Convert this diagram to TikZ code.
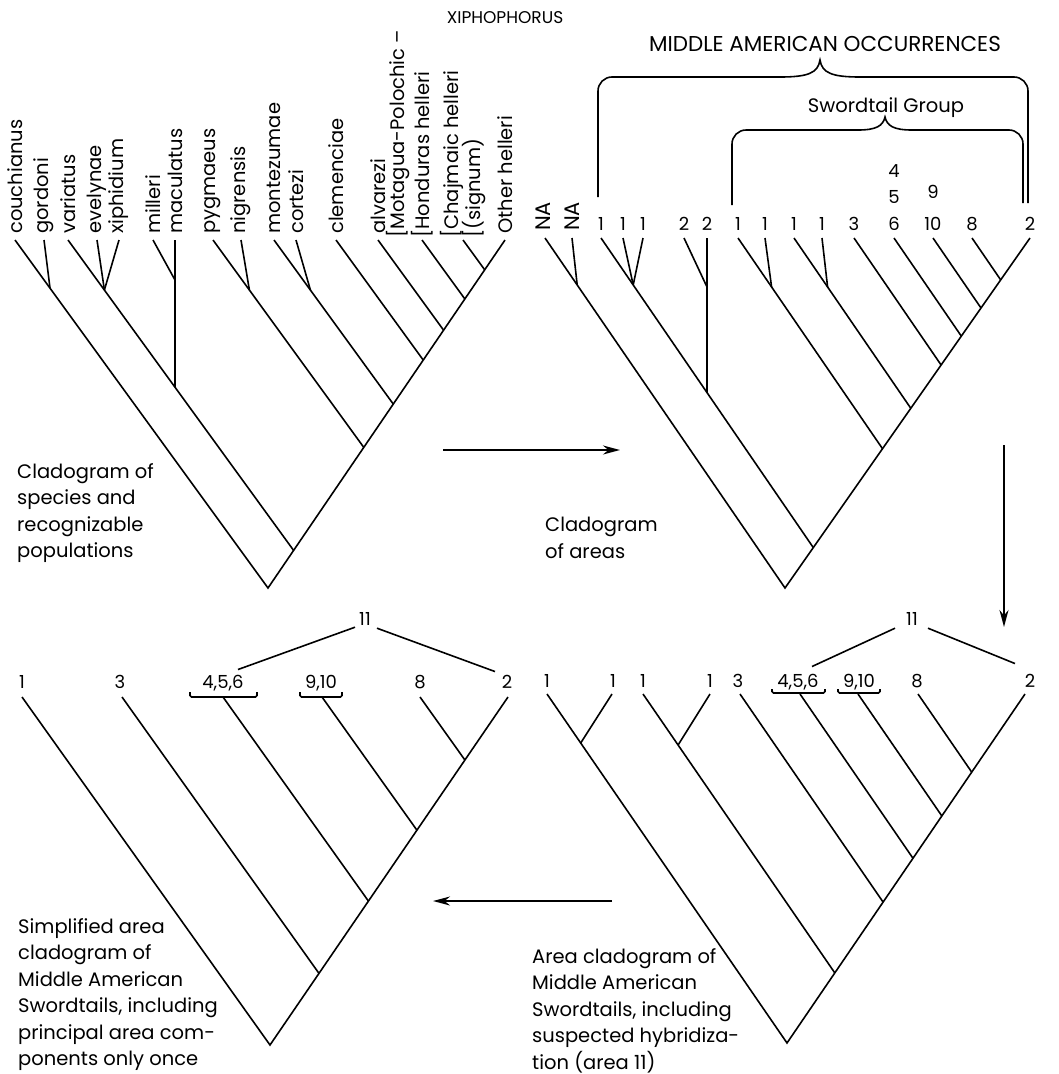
\documentclass[tikz,border=0pt]{standalone}
\usepackage{fontspec}
\setmainfont{Poppins}
\usetikzlibrary{arrows.meta}

\begin{document}
\begin{tikzpicture}[x=1pt, y=-1pt,
    branch/.style={line width=1.6pt},
    taxon/.style={rotate=90, anchor=west, inner sep=0pt, font=\fontsize{19.5}{22}\selectfont},
    area/.style={anchor=base, inner sep=0pt, font=\fontsize{18}{20}\selectfont},
    note/.style={anchor=north west, inner sep=0pt, align=left, font=\fontsize{19.5}{26.5}\selectfont},
    flow/.style={line width=1.8pt, -{Stealth[length=17pt, width=9pt]}},
    brace/.style={line width=1.6pt, rounded corners=14pt},
    underbrace/.style={line width=1.6pt, rounded corners=1.5pt}]
\useasboundingbox (0,0) rectangle (1058,1074);

% Title
\node[area, font=\fontsize{17}{20}\selectfont] (title) at (505,23) {XIPHOPHORUS};

% Cladogram of species (top left)
\foreach \x/\n/\t in {15/cou/couchianus, 44/gor/gordoni, 68/var/variatus, 97/eve/evelynae,
    119/xip/xiphidium, 153/mil/milleri, 175/mac/maculatus, 213/pyg/pygmaeus, 241/nig/nigrensis,
    274/mon/montezumae, 296/cor/cortezi, 336/cle/clemenciae, 378/alv/alvarezi, 505/oth/Other helleri} {
  \coordinate (\n) at (\x,240);
  \node[taxon] (l\n) at (\x,234) {\t};
}
\coordinate (hon) at (422,240);
\coordinate (cha) at (463,240);
\node[taxon] (lmot) at (398,238) {[Motagua-Polochic –};
\node[taxon] (lhon) at (422,238) {[Honduras helleri};
\node[taxon] (lcha) at (452,238) {[Chajmaic helleri};
\node[taxon] (lsig) at (474,238) {[(signum)};

\coordinate (rootA) at (268,588);
\coordinate (aVar) at (293.6,550.4);
\coordinate (aPyg) at (363.8,447.4);
\coordinate (aMon) at (393.3,404.1);
\coordinate (aCle) at (423.2,360);
\coordinate (aAlv) at (443.6,330.2);
\coordinate (aHon) at (464.8,298.9);
\coordinate (aCha) at (484.7,269.8);
\coordinate (aGor) at (50,288);
\coordinate (aEve) at (104.4,290);
\coordinate (aMil) at (175,280);
\coordinate (aMac) at (175,387.2);
\coordinate (aNig) at (249.4,290);
\coordinate (aCor) at (310.4,290);

\draw[branch] (cou) -- (rootA) -- (oth);
\foreach \a/\b in {var/aVar, pyg/aPyg, mon/aMon, cle/aCle, alv/aAlv, hon/aHon, cha/aCha,
    gor/aGor, eve/aEve, xip/aEve, mil/aMil, mac/aMac, nig/aNig, cor/aCor}
  \draw[branch] (\a) -- (\b);

% Cladogram of areas (top right)
\foreach \x/\n/\t in {601/b1/1, 623/b2/1, 643/b3/1, 684/b4/2, 707/b5/2, 738/b6/1, 765/b7/1,
    794/b8/1, 822/b9/1, 854/b10/3, 894/b11/6, 933/b12/10, 972/b13/8, 1030/b14/2} {
  \coordinate (\n) at (\x,238);
  \node[area] (l\n) at (\x,230) {\t};
}
\coordinate (bNA1) at (545,238);
\coordinate (bNA2) at (572,238);
\node[taxon, font=\fontsize{21}{22}\selectfont] (lbNA1) at (543,231) {NA};
\node[taxon, font=\fontsize{21}{22}\selectfont] (lbNA2) at (572,231) {NA};
\node[area] (lb4) at (894,177) {4};
\node[area] (lb5) at (894,203) {5};
\node[area] (lb9) at (933,198) {9};

\coordinate (rootB) at (785,588);
\coordinate (bA) at (813.3,547.6);
\coordinate (bD) at (882.5,448.7);
\coordinate (bF) at (910.8,408.3);
\coordinate (bThree) at (941.1,365);
\coordinate (bSix) at (961.3,336.1);
\coordinate (bTen) at (981,308);
\coordinate (bEight) at (1000.7,279.9);
\coordinate (bNA) at (577.2,285);
\coordinate (bB) at (633.2,285);
\coordinate (bTwo) at (707,287);
\coordinate (bTwoB) at (707,392.6);
\coordinate (bE) at (771.6,287);
\coordinate (bG) at (827.6,287);

\draw[branch] (bNA1) -- (rootB) -- (b14);
\foreach \a/\b in {b1/bA, b6/bD, b8/bF, b10/bThree, b11/bSix, b12/bTen, b13/bEight,
    bNA2/bNA, b2/bB, b3/bB, b4/bTwo, b5/bTwoB, b7/bE, b9/bG}
  \draw[branch] (\a) -- (\b);

% Braces over the areas
\node[area, font=\fontsize{21.5}{24}\selectfont] (mao) at (825,51) {MIDDLE AMERICAN OCCURRENCES};
\node[area, font=\fontsize{19.5}{22}\selectfont] (swg) at (886,112) {Swordtail Group};
\draw[brace] (598,197) -- (598,77) -- (780,77);
\draw[branch] (780,77) .. controls (808,77) and (818,73) .. (820,60)
  .. controls (822,73) and (832,77) .. (860,77);
\draw[brace] (860,77) -- (1028,77) -- (1028,203);
\draw[brace] (732,205) -- (732,130) -- (858,130);
\draw[branch] (858,130) .. controls (876,130) and (883,126) .. (885,117)
  .. controls (887,126) and (894,130) .. (912,130);
\draw[brace] (912,130) -- (1023,130) -- (1023,203);

% Area cladogram with hybrid area (bottom right)
\foreach \x/\n in {547/d1, 612/d2, 643/d3, 710/d4, 740/d5, 800/d6, 858/d7, 918/d8, 1025/d9}
  \coordinate (\n) at (\x,694);
\foreach \x/\n/\t in {547/d1/1, 613/d2/1, 643/d3/1, 710/d4/1, 738/d5/3, 798/d6/{4,5,6},
    859/d7/{9,10}, 917/d8/8, 1030/d9/2}
  \node[area] (l\n) at (\x,687) {\t};
\draw[underbrace] (772,689) -- (772,693) -- (825,693) -- (825,689);
\draw[underbrace] (838,689) -- (838,693) -- (880,693) -- (880,689);
\node[area] (IId) at (912,625) {11};
\draw[branch] ([xshift=-17pt,yshift=-3pt]IId.south) -- ([xshift=14pt,yshift=7pt]ld6.north);
\draw[branch] ([xshift=16pt,yshift=-3pt]IId.south) -- ([xshift=-15pt,yshift=10pt]ld9.north);

\coordinate (rootD) at (787,1043);
\coordinate (dC) at (834.8,972.9);
\coordinate (dThree) at (883.1,902.1);
\coordinate (dSix) at (913,858.3);
\coordinate (dTen) at (941.8,815.9);
\coordinate (dEight) at (971.7,772.1);
\coordinate (dB) at (580.7,743);
\coordinate (dD) at (678.1,745);

\draw[branch] (d1) -- (rootD) -- (d9);
\foreach \a/\b in {d3/dC, d5/dThree, d6/dSix, d7/dTen, d8/dEight, d2/dB, d4/dD}
  \draw[branch] (\a) -- (\b);

% Simplified area cladogram (bottom left)
\foreach \x/\n in {22/c1, 122/c2, 223/c3, 322/c4, 420/c5, 508/c6}
  \coordinate (\n) at (\x,697);
\foreach \x/\n/\t in {22/c1/1, 120/c2/3, 223/c3/{4,5,6}, 321/c4/{9,10}, 420/c5/8, 507/c6/2}
  \node[area] (l\n) at (\x,688) {\t};
\draw[underbrace] (190,692) -- (190,697) -- (257,697) -- (257,692);
\draw[underbrace] (300,692) -- (300,697) -- (342,697) -- (342,692);
\node[area] (IIc) at (365,625) {11};
\draw[branch] ([xshift=-10pt,yshift=-2pt]IIc.south) -- ([xshift=15pt,yshift=5pt]lc3.north);
\draw[branch] ([xshift=12pt,yshift=-3pt]IIc.south) -- ([xshift=-12pt,yshift=3pt]lc6.north);

\coordinate (rootC) at (270,1045);
\coordinate (cThree) at (319,973.4);
\coordinate (cSix) at (368.3,900.9);
\coordinate (cTen) at (416.8,830);
\coordinate (cEight) at (464.9,760);

\draw[branch] (c1) -- (rootC) -- (c6);
\foreach \a/\b in {c2/cThree, c3/cSix, c4/cTen, c5/cEight}
  \draw[branch] (\a) -- (\b);

% Captions
\node[note] (capA) at (17,463) {Cladogram of\\species and\\recognizable\\populations};
\node[note] (capB) at (545,517) {Cladogram\\of areas};
\node[note] (capC) at (18,918) {Simplified area\\cladogram of\\Middle American\\Swordtails, including\\principal area com-\\ponents only once};
\node[note] (capD) at (532,948) {Area cladogram of\\Middle American\\Swordtails, including\\suspected hybridiza-\\tion (area 11)};

% Flow between the panels
\coordinate (toB1) at (443,450);
\coordinate (toB2) at (620,450);
\coordinate (toD1) at (1004,445);
\coordinate (toD2) at (1004,627);
\coordinate (toC1) at (612,901);
\coordinate (toC2) at (433,901);
\draw[flow] (toB1) -- (toB2);
\draw[flow] (toD1) -- (toD2);
\draw[flow] (toC1) -- (toC2);
\end{tikzpicture}
\end{document}
